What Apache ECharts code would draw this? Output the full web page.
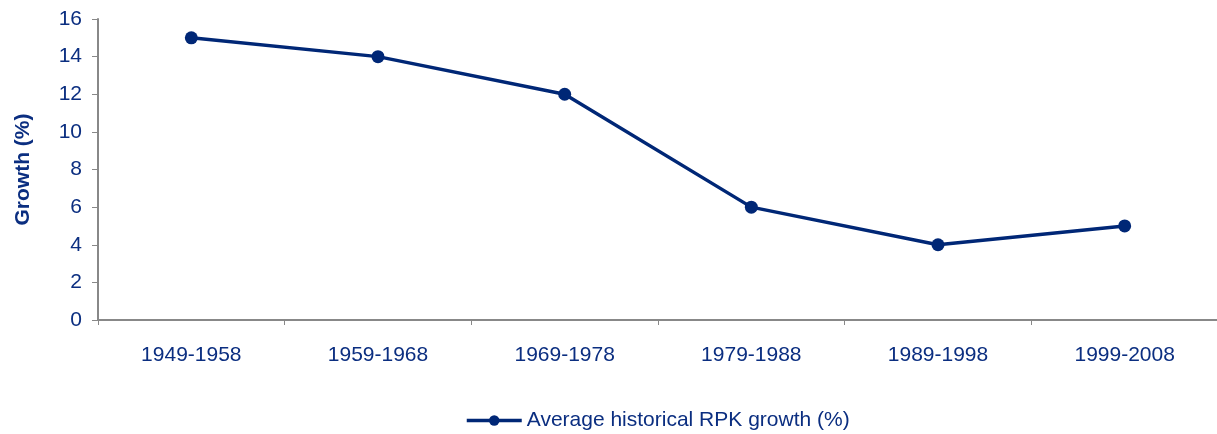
<!doctype html>
<html lang="en">

<head>
	<meta charset="UTF-8">
	<title>Average historical RPK growth</title>
	<style>
		html, body { margin: 0; padding: 0; background: #fff; }
		#lineChart { width: 1217px; height: 434px; }
	</style>
</head>

<body>
	<div id="lineChart"></div>

	<script src="https://cdn.jsdelivr.net/npm/echarts@6/dist/echarts.min.js"></script>
	<script>
		// data
		var periods = ['1949-1958', '1959-1968', '1969-1978', '1979-1988', '1989-1998', '1999-2008'];
		var rpkGrowth = [15, 14, 12, 6, 4, 5];
		var seriesName = 'Average historical RPK growth (%)';

		var navy = '#002776';
		var textNavy = '#0B2E80';
		var axisGray = '#888888';

		var lineChart = echarts.init(document.getElementById('lineChart'));

		option = {
			animation: false,
			textStyle: { fontFamily: 'Liberation Sans, Arial, sans-serif' },
			grid: {
				left: 98,
				right: -1,
				top: 19,
				bottom: 114,
				outerBoundsMode: 'none'
			},
			legend: {
				data: [seriesName],
				bottom: -2,
				left: 460,
				itemWidth: 55,
				itemHeight: 13,
				lineStyle: { width: 3.5 },
				textStyle: { color: textNavy, fontSize: 21 }
			},
			xAxis: {
				type: 'category',
				data: periods,
				boundaryGap: true,
				axisLine: { lineStyle: { color: axisGray, width: 2 } },
				axisTick: { show: true, length: 5, lineStyle: { color: axisGray, width: 1 } },
				axisLabel: { color: textNavy, fontSize: 21, margin: 25 }
			},
			yAxis: {
				type: 'value',
				min: 0,
				max: 16,
				interval: 2,
				name: 'Growth (%)',
				nameLocation: 'middle',
				nameGap: 64,
				nameTextStyle: { color: textNavy, fontSize: 21, fontWeight: 'bold' },
				axisLine: { show: true, lineStyle: { color: axisGray, width: 2 } },
				axisTick: { show: true, length: 6, lineStyle: { color: axisGray, width: 1 } },
				axisLabel: { color: textNavy, fontSize: 21, margin: 16 },
				splitLine: { show: false }
			},
			series: [
				{
					name: seriesName,
					type: 'line',
					data: rpkGrowth,
					symbol: 'circle',
					symbolSize: 13,
					lineStyle: { color: navy, width: 3.5 },
					itemStyle: { color: navy }
				}
			]
		};

		lineChart.setOption(option);
	</script>
</body>

</html>
